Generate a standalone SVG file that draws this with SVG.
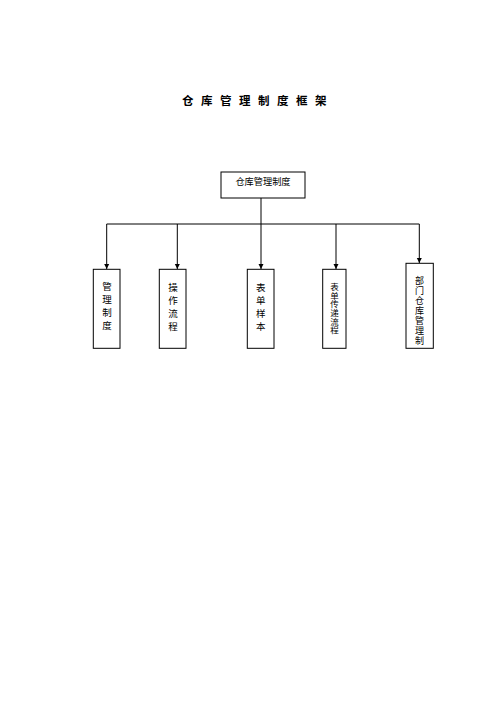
<svg xmlns="http://www.w3.org/2000/svg" width="500" height="707" viewBox="0 0 500 707">
<style>
.box{fill:#fff;stroke:#000;stroke-width:1}
.ln{fill:none;stroke:#000;stroke-width:1}
.t{font-family:"Noto Sans CJK SC","Noto Sans CJK JP",sans-serif;fill:#000;text-anchor:middle}
.v{font-family:"Noto Sans CJK SC","Noto Sans CJK JP",sans-serif;fill:#000;writing-mode:vertical-rl;text-anchor:start}
</style>
<defs>
<marker id="ah" viewBox="0 0 10 10" refX="10" refY="5" markerWidth="5" markerHeight="5" markerUnits="userSpaceOnUse" orient="auto" overflow="visible">
<path d="M0,0 L10,5 L0,10 Z" fill="#000"/>
</marker>
</defs>
<rect width="500" height="707" fill="#fff"/>
<text x="182" y="105" font-family="'Noto Sans CJK SC',sans-serif" font-size="11.5" font-weight="bold" letter-spacing="7.5" fill="#000">仓库管理制度框架</text>
<g id="connectors">
<path class="ln" d="M261,198 V224"/>
<path class="ln" d="M106.7,224 H419.3"/>
<path class="ln" d="M106.7,224 V269" marker-end="url(#ah)"/>
<path class="ln" d="M177.3,224 V269" marker-end="url(#ah)"/>
<path class="ln" d="M261,224 V269" marker-end="url(#ah)"/>
<path class="ln" d="M336,224 V269" marker-end="url(#ah)"/>
<path class="ln" d="M419.3,224 V263" marker-end="url(#ah)"/>
</g>
<g id="root">
<rect class="box" x="221" y="172" width="84" height="26"/>
<text class="t" x="263" y="184.5" font-size="9.2">仓库管理制度</text>
</g>
<g id="n1">
<rect class="box" x="93.3" y="269.3" width="26.7" height="79"/>
<text class="v" x="107" y="282" font-size="9.5" letter-spacing="3.5">管理制度</text>
</g>
<g id="n2">
<rect class="box" x="159.3" y="269.3" width="26.7" height="79"/>
<text class="v" x="173" y="282.5" font-size="9.5" letter-spacing="3.5">操作流程</text>
</g>
<g id="n3">
<rect class="box" x="247.3" y="269.3" width="26.7" height="79"/>
<text class="v" x="260.7" y="282.5" font-size="9.5" letter-spacing="3.5">表单样本</text>
</g>
<g id="n4">
<rect class="box" x="322.7" y="269.3" width="23.3" height="79"/>
<text class="v" x="334.5" y="282.5" font-size="8.5" letter-spacing="0.2">表单传递流程</text>
</g>
<g id="n5">
<rect class="box" x="406" y="263.3" width="27.3" height="85"/>
<text class="v" x="419.5" y="276.5" font-size="9" letter-spacing="1">部门仓库管理制</text>
</g>
</svg>
